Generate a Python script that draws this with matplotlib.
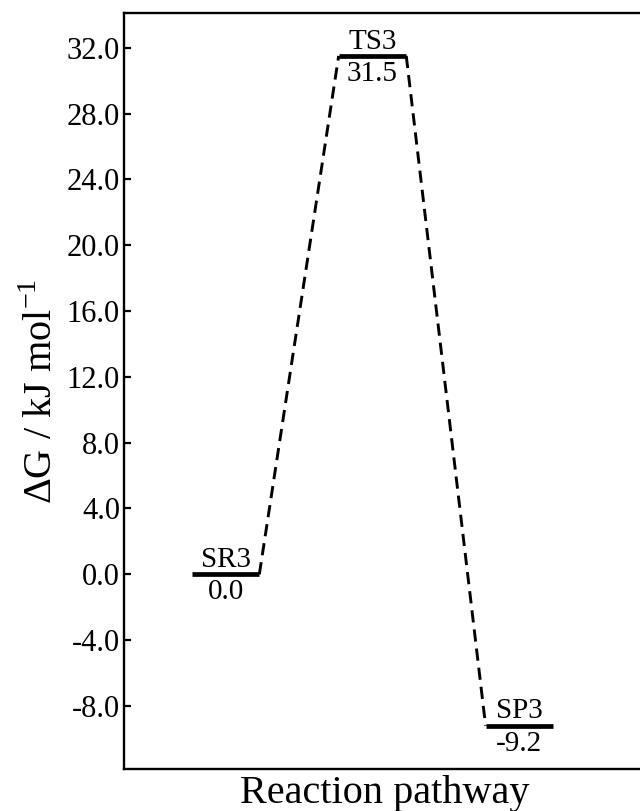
import numpy as np
import matplotlib
matplotlib.use("Agg")
import matplotlib.pyplot as plt

# energy profile data
species = ["SR3", "TS3", "SP3"]
energies = [0.0, 31.5, -9.2]
value_labels = ["0.0", "31.5", "-9.2"]
yticks = [-8.0, -4.0, 0.0, 4.0, 8.0, 12.0, 16.0, 20.0, 24.0, 28.0, 32.0]

plt.rcParams["font.family"] = ["Liberation Serif", "DejaVu Serif"]
plt.rcParams["mathtext.fontset"] = "custom"
plt.rcParams["mathtext.rm"] = "Liberation Serif"
plt.rcParams["axes.unicode_minus"] = False

fig = plt.figure(figsize=(6.4, 8.11), dpi=100)
ax = fig.add_axes([0.194, 0.0518, 0.815, 0.932])

pos = np.arange(1, len(species) + 1)
half = 0.23

# level bars
for x, e in zip(pos, energies):
    ax.plot([x - half, x + half], [e, e], color="black", lw=3.4,
            solid_capstyle="butt", zorder=3)

# dashed connectors
for i in range(len(pos) - 1):
    ax.plot([pos[i] + half, pos[i + 1] - half], [energies[i], energies[i + 1]],
            color="black", lw=2.1, dashes=(4.2, 2.4), zorder=2)

# labels above / below the levels
for x, e, name, val in zip(pos, energies, species, value_labels):
    ax.annotate(name, (x, e), xytext=(0, 1), textcoords="offset points",
                ha="center", va="bottom", fontsize=21)
    ax.annotate(val, (x, e), xytext=(0, -3.5), textcoords="offset points",
                ha="center", va="top", fontsize=21)

ax.set_xlim(0.31, 3.86)
ax.set_ylim(-11.83, 34.1)
ax.set_yticks(yticks)
ax.set_yticklabels(["%.1f" % t for t in yticks])
ax.set_xticks([])
ax.tick_params(axis="y", direction="in", length=5, width=1.6, labelsize=22, pad=3)

for s in ax.spines.values():
    s.set_linewidth(1.7)

ax.set_ylabel(r"ΔG / kJ mol$^{\mathregular{-1}}$", fontsize=29, labelpad=4)
ax.set_xlabel("Reaction pathway", fontsize=29, labelpad=4)

fig.savefig("out.png", dpi=100)
